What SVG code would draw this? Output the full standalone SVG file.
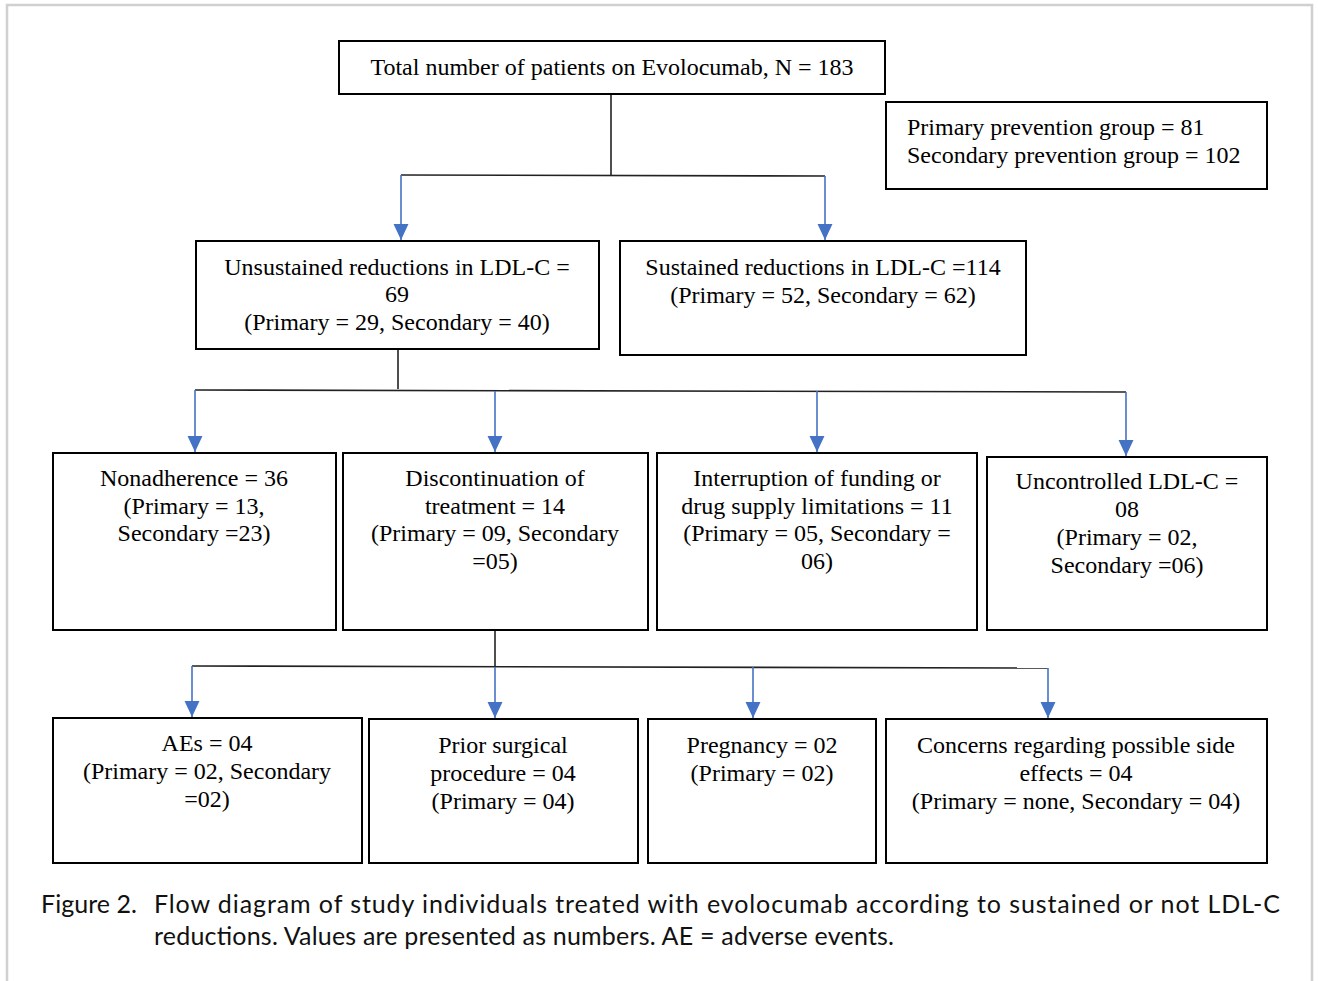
<svg xmlns="http://www.w3.org/2000/svg" width="1318" height="981" viewBox="0 0 1318 981">
<style>
.box{fill:#fff;stroke:#000;stroke-width:2}
.t{font-family:"Liberation Serif","Times New Roman",serif;font-size:24px;fill:#000;text-anchor:middle}
.tl{font-family:"Liberation Serif","Times New Roman",serif;font-size:24px;fill:#000}
.cap{font-family:"Lato","Noto Sans",sans-serif;font-size:25px;fill:#111}
.blk{fill:none;stroke:#222;stroke-width:1.6}
.arr{fill:none;stroke:#4472C4;stroke-width:1.6;marker-end:url(#ah)}
</style>
<defs>
<marker id="ah" markerUnits="userSpaceOnUse" markerWidth="16" markerHeight="16" refX="15" refY="7" orient="auto" viewBox="0 0 15 14">
<path d="M0,0 L15,7 L0,14 Z" fill="#4472C4"/>
</marker>
</defs>
<rect width="1318" height="981" fill="#fff"/>
<path d="M7,981 V5 H1312 V981" fill="none" stroke="#d0d0d0" stroke-width="2.5"/>

<g id="connectors">
<path class="blk" d="M611,94 V175"/>
<path class="blk" d="M401,175 L825,176"/>
<path class="arr" d="M401,175 V240"/>
<path class="arr" d="M825,176 V240"/>
<path class="blk" d="M398,349 V389"/>
<path class="blk" d="M195,390 L1126,392"/>
<path class="arr" d="M195,390 V452"/>
<path class="arr" d="M495,391 V452"/>
<path class="arr" d="M817,391 V452"/>
<path class="arr" d="M1126,392 V456"/>
<path class="blk" d="M495,630 V666"/>
<path class="blk" d="M192,666 L1048,668"/>
<path class="arr" d="M192,666 V717"/>
<path class="arr" d="M495,667 V718"/>
<path class="arr" d="M753,667 V718"/>
<path class="arr" d="M1048,668 V718"/>
</g>

<g id="total">
<rect class="box" x="339" y="41" width="546" height="53"/>
<text class="t" x="612" y="75">Total number of patients on Evolocumab, N = 183</text>
</g>
<g id="prevention">
<rect class="box" x="886" y="102" width="381" height="87"/>
<text class="tl" x="907" y="135">Primary prevention group = 81</text>
<text class="tl" x="907" y="163">Secondary prevention group = 102</text>
</g>
<g id="unsustained">
<rect class="box" x="196" y="241" width="403" height="108"/>
<text class="t" x="397" y="275">Unsustained reductions in LDL-C =</text>
<text class="t" x="397" y="302">69</text>
<text class="t" x="397" y="330">(Primary = 29, Secondary = 40)</text>
</g>
<g id="sustained">
<rect class="box" x="620" y="241" width="406" height="114"/>
<text class="t" x="823" y="275">Sustained reductions in LDL-C =114</text>
<text class="t" x="823" y="303">(Primary = 52, Secondary = 62)</text>
</g>
<g id="nonadherence">
<rect class="box" x="53" y="453" width="283" height="177"/>
<text class="t" x="194" y="486">Nonadherence = 36</text>
<text class="t" x="194" y="514">(Primary = 13,</text>
<text class="t" x="194" y="541">Secondary =23)</text>
</g>
<g id="discontinuation">
<rect class="box" x="343" y="453" width="305" height="177"/>
<text class="t" x="495" y="486">Discontinuation of</text>
<text class="t" x="495" y="514">treatment = 14</text>
<text class="t" x="495" y="541">(Primary = 09, Secondary</text>
<text class="t" x="495" y="569">=05)</text>
</g>
<g id="interruption">
<rect class="box" x="657" y="453" width="320" height="177"/>
<text class="t" x="817" y="486">Interruption of funding or</text>
<text class="t" x="817" y="514">drug supply limitations = 11</text>
<text class="t" x="817" y="541">(Primary = 05, Secondary =</text>
<text class="t" x="817" y="569">06)</text>
</g>
<g id="uncontrolled">
<rect class="box" x="987" y="457" width="280" height="173"/>
<text class="t" x="1127" y="489">Uncontrolled LDL-C =</text>
<text class="t" x="1127" y="517">08</text>
<text class="t" x="1127" y="545">(Primary = 02,</text>
<text class="t" x="1127" y="573">Secondary =06)</text>
</g>
<g id="aes">
<rect class="box" x="53" y="718" width="309" height="145"/>
<text class="t" x="207" y="751">AEs = 04</text>
<text class="t" x="207" y="779">(Primary = 02, Secondary</text>
<text class="t" x="207" y="807">=02)</text>
</g>
<g id="prior">
<rect class="box" x="369" y="719" width="269" height="144"/>
<text class="t" x="503" y="753">Prior surgical</text>
<text class="t" x="503" y="781">procedure = 04</text>
<text class="t" x="503" y="809">(Primary = 04)</text>
</g>
<g id="pregnancy">
<rect class="box" x="648" y="719" width="228" height="144"/>
<text class="t" x="762" y="753">Pregnancy = 02</text>
<text class="t" x="762" y="781">(Primary = 02)</text>
</g>
<g id="concerns">
<rect class="box" x="886" y="719" width="381" height="144"/>
<text class="t" x="1076" y="753">Concerns regarding possible side</text>
<text class="t" x="1076" y="781">effects = 04</text>
<text class="t" x="1076" y="809">(Primary = none, Secondary = 04)</text>
</g>

<g id="caption">
<text class="cap" x="41" y="913" textLength="96" lengthAdjust="spacing">Figure 2.</text>
<text class="cap" x="154" y="913" textLength="1126" lengthAdjust="spacing">Flow diagram of study individuals treated with evolocumab according to sustained or not LDL-C</text>
<text class="cap" x="154" y="945" textLength="740" lengthAdjust="spacing">reductions. Values are presented as numbers. AE = adverse events.</text>
</g>
</svg>
